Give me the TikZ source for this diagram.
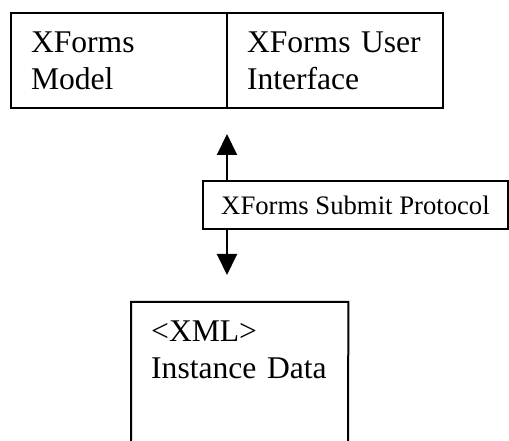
\documentclass[tikz,border=0pt]{standalone}
\usepackage{fontspec}
\setmainfont{Liberation Serif}
\usetikzlibrary{arrows.meta}
\tikzset{
  xf text/.style={font=\fontsize{31.6}{37}\selectfont, text=black},
  xf box/.style={draw=black, line width=2pt, align=left, inner xsep=20pt, inner ysep=0pt,
    minimum width=216pt, minimum height=95pt, text width=176pt},
  xf proto/.style={draw=black, line width=2pt, inner xsep=0pt, inner ysep=0pt,
    minimum width=305pt, minimum height=48pt, font=\fontsize{26.7}{32}\selectfont},
  xf data/.style={align=left, inner xsep=20pt, inner ysep=19pt, text width=177pt,
    anchor=north west},
  xf frame/.style={draw=black, line width=2pt},
  xf arrow/.style={-{Triangle[length=21pt,width=20pt]}, line width=2pt, draw=black}
}

\begin{document}
\begin{tikzpicture}[xf text, x=1pt, y=1pt]
  \useasboundingbox (0,0) rectangle (509,441);
  \node[xf box] (model) at (119,380.5) {XForms\\Model};
  \node[xf box] (ui) at (335,380.5) {XForms User\\Interface};
  \node[xf proto] (proto) at (355.5,236) {XForms Submit Protocol};
  \coordinate (uptip) at (227,307);
  \coordinate (downtip) at (227,166);
  \draw[xf arrow] (uptip |- proto.north) -- (uptip);
  \draw[xf arrow] (downtip |- proto.south) -- (downtip);
  \node[xf data] (inst) at (131,139) {<XML>\\Instance Data};
  \coordinate (instbl) at (131,0);
  \coordinate (instbr) at (348,0);
  \draw[xf frame] (instbl) |- (inst.north east) -- (instbr);
\end{tikzpicture}
\end{document}
